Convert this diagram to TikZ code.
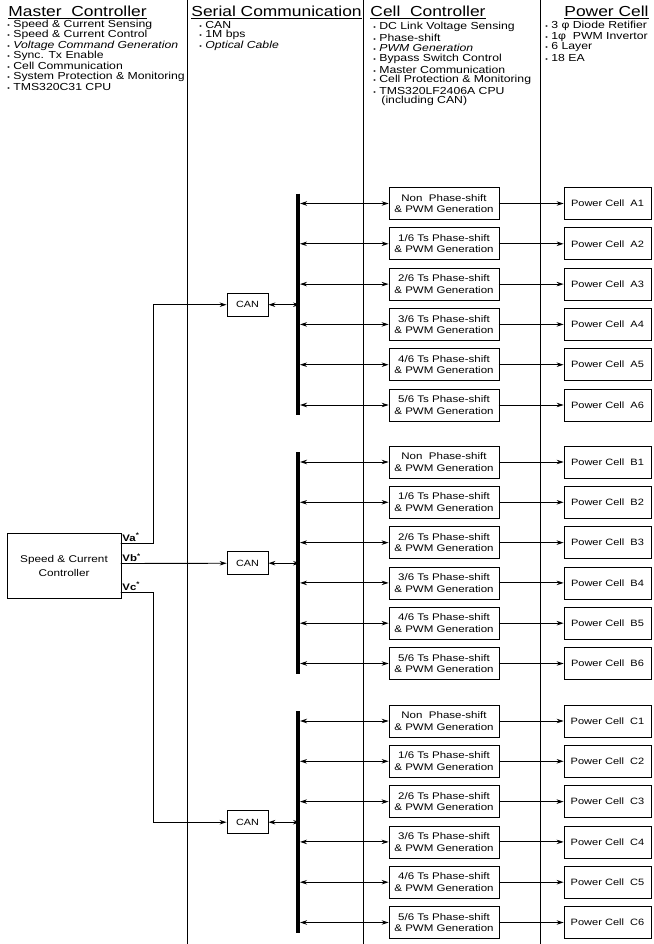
\documentclass[tikz,border=0pt]{standalone}
\usepackage{fontspec}
\setmainfont{Liberation Sans}[FakeStretch=1.2]
\usetikzlibrary{arrows.meta}
\newcommand{\bul}{{\fontsize{6}{6}\selectfont\textbullet}\ }

\begin{document}
\begin{tikzpicture}[x=1pt,y=-1pt,>={Stealth[length=7pt,width=4.5pt]},line cap=round,line width=0.9pt,
  cellbox/.style={draw,thick,minimum width=110pt,minimum height=32pt,align=center,
    font=\fontsize{9.6}{11.5}\selectfont,inner sep=1pt},
  pcbox/.style={draw,thick,minimum width=87pt,minimum height=32pt,font=\fontsize{9.2}{11}\selectfont},
  canbox/.style={draw,thick,minimum width=41pt,minimum height=23pt,font=\fontsize{9}{11}\selectfont},
  head/.style={anchor=base west,font=\fontsize{14.5}{16}\selectfont,inner sep=0pt},
  item/.style={anchor=west,font=\fontsize{10.2}{10}\selectfont,inner sep=0pt},
  vlab/.style={anchor=south west,font=\fontsize{9.5}{10}\selectfont\bfseries,inner sep=1pt}]
\useasboundingbox (0,0) rectangle (653,944);

% column separators
\draw (187,0) -- (187,944);
\draw (363,0) -- (363,944);
\draw (540,0) -- (540,944);

% headings
\node[head] (hmc) at (8,17) {\underline{Master\ \ Controller}};
\node[head] (hsc) at (191,17) {\underline{Serial Communication}};
\node[head] (hcc) at (370,17) {\underline{Cell\ \ Controller}};
\node[head] (hpc) at (564,17) {\underline{Power Cell}};

% feature lists
\foreach \t [count=\k] in {Speed \& Current Sensing,Speed \& Current Control,
  {\itshape Voltage Command Generation},Sync. Tx Enable,Cell Communication,
  System Protection \& Monitoring,TMS320C31 CPU}
  \node[item] (mc\k) at (7,{25+10.3*(\k-1)}) {\bul\t};
\foreach \t [count=\k] in {CAN,1M bps,{\itshape Optical Cable}}
  \node[item] (sc\k) at (199,{25+10.3*(\k-1)}) {\bul\t};
\foreach \t [count=\k] in {DC Link Voltage Sensing,Phase-shift,{\itshape PWM Generation},
  Bypass Switch Control,Master Communication,Cell Protection \& Monitoring,TMS320LF2406A CPU}
  \node[item] (cl\k) at (373,{27+10.6*(\k-1)}) {\bul\t};
\node[item] (cl8) at (381,101.2) {(including CAN)};
\foreach \t [count=\k] in {3 φ Diode Retifier,1φ\ \ PWM Invertor,6 Layer,18 EA}
  \node[item] (pl\k) at (545,{26+10.6*(\k-1)}) {\bul\t};

% master controller
\node[draw,thick,minimum width=114pt,minimum height=65pt,align=center,
  font=\fontsize{9.8}{14}\selectfont] (ctrl) at (64,565.5) {Speed \& Current\\Controller};
\coordinate (vaout) at (121,543);
\coordinate (vbout) at (121,563.5);
\coordinate (vcout) at (121,592);
\coordinate (vabend) at (153,543);
\coordinate (vcbend) at (153,592);
\node[vlab] (valab) at (vaout) {Va\textsuperscript{*}};
\node[vlab] (vblab) at (vbout) {Vb\textsuperscript{*}};
\node[vlab] (vclab) at (vcout) {Vc\textsuperscript{*}};

% three phase groups: CAN, bus, cell controllers, power cells
\foreach \g/\yy in {A/203.5,B/462,C/721}{
  \coordinate (bus\g t) at (298,\yy-10);
  \coordinate (bus\g b) at (298,\yy+211.5);
  \coordinate (edge\g) at (300,\yy);
  \draw[line width=4pt,line cap=butt] (bus\g t) -- (bus\g b);
  \node[canbox] (can\g) at (247.5,\yy+101.2) {CAN};
  \draw[<->] (can\g) -- (can\g -| edge\g);
  \foreach \t [count=\k] in {Non\ \ Phase-shift,1/6 Ts Phase-shift,2/6 Ts Phase-shift,
    3/6 Ts Phase-shift,4/6 Ts Phase-shift,5/6 Ts Phase-shift}{
    \node[cellbox] (cc\g\k) at (444,{\yy+40.3*(\k-1)}) {\t\\\& PWM Generation};
    \node[pcbox] (pc\g\k) at (607.5,{\yy+40.3*(\k-1)}) {Power Cell\ \ \g\k};
    \draw[<->] (cc\g\k.west -| edge\g) -- (cc\g\k);
    \draw[->] (cc\g\k) -- (pc\g\k);
  }
}

% reference voltages to the CAN nodes
\draw[->] (vaout) -- (vabend) |- (canA);
\draw[->] (vbout) -- (canB);
\draw[->] (vcout) -- (vcbend) |- (canC);
\end{tikzpicture}
\end{document}
